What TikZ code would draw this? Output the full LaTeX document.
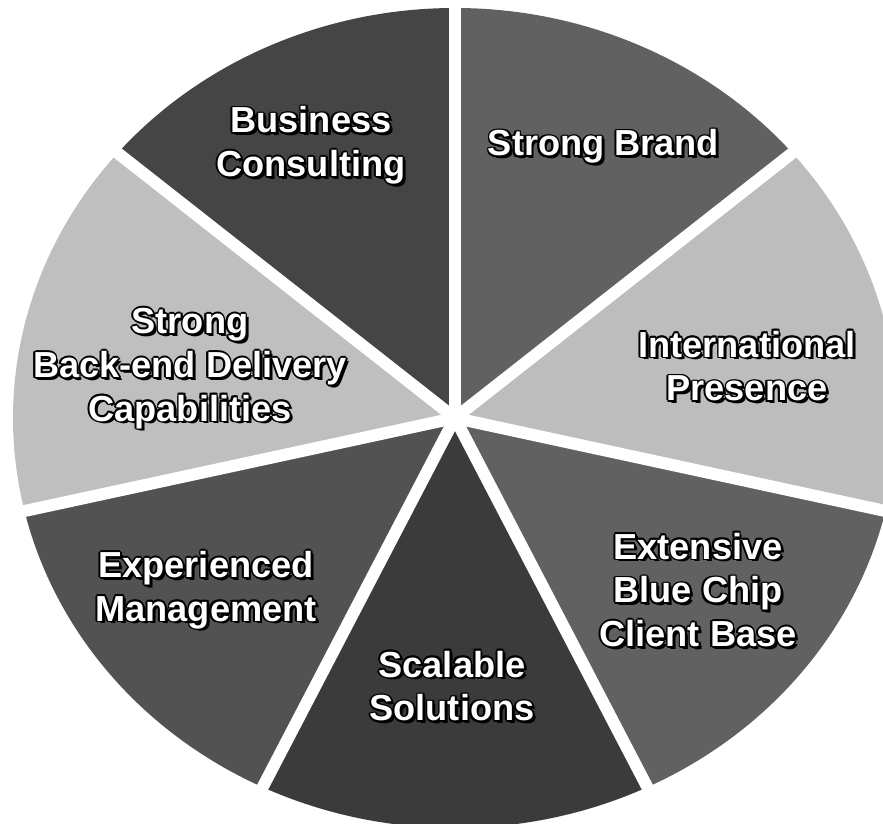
\documentclass[tikz,border=0pt]{standalone}
\usepackage{fontspec}
\newfontfamily\slicefont{Liberation Sans}
\usetikzlibrary{positioning}

% outlined white label: black copies underneath, white text on top
\newcommand\pielabel[3]{%
  \foreach \ox/\oy in {-1/0,1/0,0/-1,0/1,-.7/-.7,.7/.7,-.7/.7,.7/-.7,1.6/-1.6}
    \node[slicelabel, text=black, xshift=\ox pt, yshift=\oy pt] at (#2) {#3};
  \node[slicelabel] (#1) at (#2) {#3};
}

\begin{document}
\begin{tikzpicture}[
    x=0.2mm, y=0.2mm,
    slicelabel/.style={text=white, align=center, inner sep=0pt, font=\slicefont\bfseries\fontsize{20.6}{24.9}\selectfont},
    gap/.style={white, line width=12*0.2mm, line cap=round}
  ]
    \useasboundingbox[fill=white] (-455,-406) rectangle (428,418);
    \coordinate (hub) at (0,0);

    % the seven slices
    \foreach \from/\to/\shade in {90/140/black!73, 140/193/black!25, 193/244/black!68,
        244/296/black!77, 296/347/black!62, 347/400/black!26, 400/450/black!62}
      \fill[\shade] (hub) -- (\from:442 and 410)
        arc[start angle=\from, end angle=\to, x radius=442, y radius=410] -- cycle;

    \foreach \ang in {90,140,193,244,296,347,40}
      \draw[gap] (hub) -- (\ang:470 and 440);

    \pielabel{consult}{-144,272.5}{Business\\Consulting}
    \pielabel{brand}{148.5,271.5}{Strong Brand}
    \pielabel{intl}{292,52}{International\\Presence}
    \pielabel{bluechip}{243,-172}{Extensive\\Blue Chip\\Client Base}
    \pielabel{scalable}{-3,-268}{Scalable\\Solutions}
    \pielabel{mgmt}{-249,-172}{Experienced\\Management}
    \pielabel{delivery}{-265,49.5}{Strong\\Back-end Delivery\\Capabilities}
  \end{tikzpicture}
\end{document}
